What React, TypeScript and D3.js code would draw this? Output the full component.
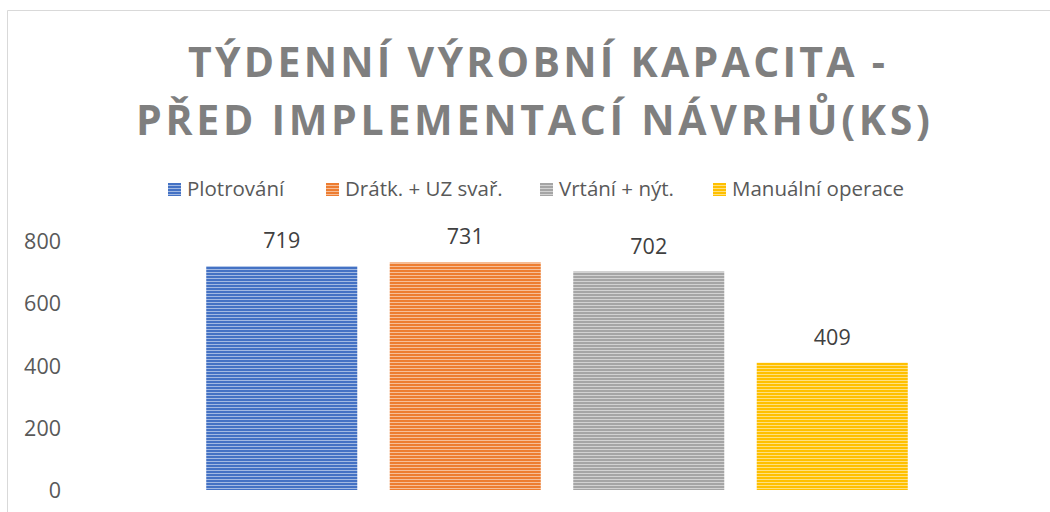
import React from "react";
import * as d3 from "d3";

const titleLines = ["TÝDENNÍ VÝROBNÍ KAPACITA -", "PŘED IMPLEMENTACÍ NÁVRHŮ(KS)"];
const seriesNames = ["Plotrování", "Drátk. + UZ svař.", "Vrtání + nýt.", "Manuální operace"];
const seriesValues = [719, 731, 702, 409];
const seriesColors = ["#4472C4", "#ED7D31", "#A5A5A5", "#FFC000"];
const yTicks = [0, 200, 400, 600, 800];

const W = 1050;
const H = 512;
const FONT = "'Open Sans', 'Noto Sans', sans-serif";

export default function App() {
  const x = d3
    .scaleBand<string>()
    .domain(seriesNames)
    .range([190, 924])
    .paddingInner(0.177)
    .paddingOuter(0.0885);
  const y = d3.scaleLinear().domain([0, 800]).range([490, 241]);

  const legendX = [168, 326, 540, 713];

  return (
    <svg width={W} height={H} style={{ position: "absolute", left: 0, top: 0, background: "#fff" }}>
      <defs>
        {seriesColors.map((c, i) => (
          <pattern key={i} id={`pat${i}`} width={8} height={3} patternUnits="userSpaceOnUse">
            <rect width={8} height={3} fill={c} />
            <rect y={2} width={8} height={1} fill={d3.interpolateRgb(c, "#ffffff")(0.5)} />
          </pattern>
        ))}
      </defs>
      <rect x={0} y={0} width={W} height={H} fill="#fff" />
      <line x1={7.5} y1={10.5} x2={W} y2={10.5} stroke="#d9d9d9" strokeWidth={1} />
      <line x1={7.5} y1={10.5} x2={7.5} y2={H} stroke="#d9d9d9" strokeWidth={1} />

      {titleLines.map((t, i) => (
        <text
          key={i}
          x={i === 0 ? 188 : 136}
          y={77 + i * 58}
          textAnchor="start"
          fontFamily={FONT}
          fontWeight={700}
          fontSize={41}
          fill="#7f7f7f"
          textLength={i === 0 ? 697 : 794}
          lengthAdjust="spacing"
        >
          {t}
        </text>
      ))}

      {seriesNames.map((n, i) => (
        <g key={n}>
          <rect x={legendX[i]} y={183} width={13} height={13} fill={`url(#pat${i})`} />
          <text x={legendX[i] + 19} y={196} fontFamily={FONT} fontSize={20.5} fill="#595959">
            {n}
          </text>
        </g>
      ))}

      {yTicks.map((t) => (
        <text
          key={t}
          x={61}
          y={y(t) + 8}
          textAnchor="end"
          fontFamily={FONT}
          fontSize={21.5}
          fill="#595959"
        >
          {t}
        </text>
      ))}

      {seriesNames.map((n, i) => (
        <g key={n}>
          <rect
            x={x(n)!}
            y={y(seriesValues[i])}
            width={x.bandwidth()}
            height={y(0) - y(seriesValues[i])}
            fill={`url(#pat${i})`}
          />
          <text
            x={x(n)! + x.bandwidth() / 2}
            y={y(seriesValues[i]) - 18}
            textAnchor="middle"
            fontFamily={FONT}
            fontSize={21.5}
            fill="#404040"
          >
            {seriesValues[i]}
          </text>
        </g>
      ))}
    </svg>
  );
}
